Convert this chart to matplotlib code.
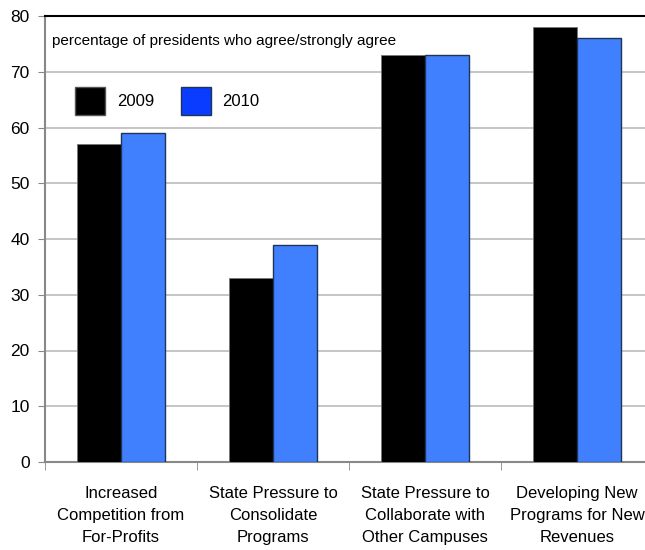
import matplotlib.pyplot as plt
from matplotlib.patches import Patch
import numpy as np

categories = ["Increased\nCompetition from\nFor-Profits",
              "State Pressure to\nConsolidate\nPrograms",
              "State Pressure to\nCollaborate with\nOther Campuses",
              "Developing New\nPrograms for New\nRevenues"]
values_2009 = [57, 33, 73, 78]
values_2010 = [59, 39, 73, 76]
y_ticks = [0, 10, 20, 30, 40, 50, 60, 70, 80]

plt.rcParams['font.family'] = ['Liberation Sans', 'DejaVu Sans']

fig = plt.figure(figsize=(6.45, 5.5), dpi=100)
# axes run past the right edge like in the original
ax = fig.add_axes([45 / 645, 88 / 550, 608 / 645, 446 / 550])

x = np.arange(len(categories))
w = 0.29
ax.bar(x - w / 2, values_2009, w, color='black', edgecolor='#777777', linewidth=0.6, zorder=3)
ax.bar(x + w / 2, values_2010, w, color='#4080ff', edgecolor='#1e3556', linewidth=1.0, zorder=3)

ax.set_xlim(-0.5, len(categories) - 0.5)
ax.set_ylim(0, 80)
ax.set_yticks(y_ticks)
ax.yaxis.grid(True, color='#bbbbbb', linewidth=1.2, zorder=0)
ax.tick_params(axis='y', labelsize=12.5, length=5, color='#888888', pad=6)

ax.set_xticks(x)
ax.set_xticklabels(categories, fontsize=12, linespacing=1.6)
ax.tick_params(axis='x', length=0, pad=17)
ax.set_xticks(np.arange(len(categories)) + 0.5 - 1, minor=True)
ax.tick_params(axis='x', which='minor', length=6, color='#888888', direction='out')

for s in ['left', 'bottom']:
    ax.spines[s].set_color('#888888')
    ax.spines[s].set_linewidth(1.5)
ax.spines['top'].set_color('black')
ax.spines['top'].set_linewidth(1.5)
ax.spines['right'].set_visible(False)

ax.text(0.012, 0.945, "percentage of presidents who agree/strongly agree",
        transform=ax.transAxes, fontsize=11, va='center', ha='left')

handles = [Patch(facecolor='black', edgecolor='#555555', label='2009'),
           Patch(facecolor='#0a3cff', edgecolor='#1e3556', label='2010')]
ax.legend(handles=handles, loc='center left', bbox_to_anchor=(0.025, 0.81), ncol=2,
          frameon=False, fontsize=12, handlelength=1.8, handleheight=2.2,
          columnspacing=1.6, handletextpad=0.7)

fig.savefig('out.png', dpi=100)
